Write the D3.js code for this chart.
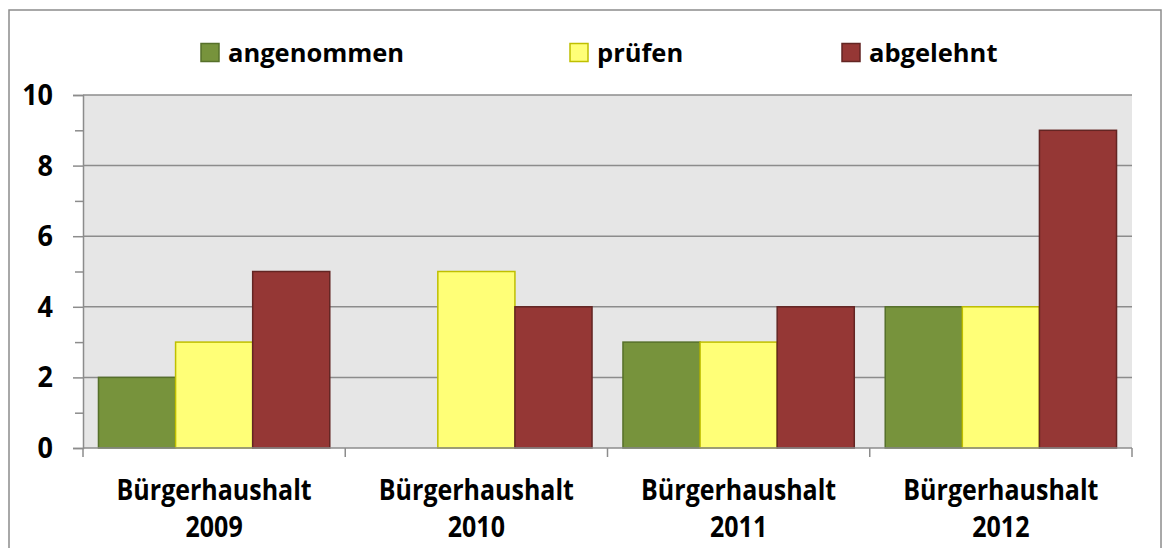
<!DOCTYPE html>
<html><head><meta charset="utf-8">
<script src="https://cdn.jsdelivr.net/npm/d3@7"></script>
<style>body{margin:0;background:#fff}svg{display:block}</style>
</head><body>
<script>
const categories = ["Bürgerhaushalt 2009","Bürgerhaushalt 2010","Bürgerhaushalt 2011","Bürgerhaushalt 2012"];
const seriesNames = ["angenommen","prüfen","abgelehnt"];
const angenommen = [2,0,3,4];
const pruefen = [3,5,3,4];
const abgelehnt = [5,4,4,9];
const yTicks = [0,2,4,6,8,10];
const fills = ["#77933C","#FFFF77","#953735"];
const strokes = ["#56702A","#BFBF00","#632523"];
const seriesVals = [angenommen, pruefen, abgelehnt];

const W=1164,H=548;
const svg=d3.select("body").append("svg").attr("width",W).attr("height",H);
const font="'Open Sans', Lato, sans-serif";
svg.append("rect").attr("x",9).attr("y",10).attr("width",1152).attr("height",560)
  .attr("fill","#fff").attr("stroke","#8C8C8C").attr("stroke-width",1.5);

const L=83,R=1132,T=95,B=448;
const y=d3.scaleLinear().domain([0,10]).range([B,T]);
const x0=d3.scaleBand().domain(categories).range([L,R]).paddingInner(0.118).paddingOuter(0.059);
const x1=d3.scaleBand().domain(seriesNames).range([0,x0.bandwidth()]);

svg.append("rect").attr("x",L).attr("y",T).attr("width",R-L).attr("height",B-T).attr("fill","#E6E6E6");
svg.append("g").selectAll("line").data(yTicks.filter(d=>d>0)).join("line")
  .attr("x1",L).attr("x2",R).attr("y1",d=>y(d)).attr("y2",d=>y(d))
  .attr("stroke","#8C8C8C").attr("stroke-width",1.5);

const g=svg.append("g");
categories.forEach((c,i)=>{
  seriesNames.forEach((s,j)=>{
    const v=seriesVals[j][i];
    if(v<=0) return;
    g.append("rect").attr("x",x0(c)+x1(s)).attr("y",y(v)).attr("width",x1.bandwidth()).attr("height",y(0)-y(v))
      .attr("fill",fills[j]).attr("stroke",strokes[j]).attr("stroke-width",1.5);
  });
});

const yAxis=d3.axisLeft(y).tickValues(yTicks).tickSize(10).tickPadding(20).tickFormat(d3.format("d"));
const ya=svg.append("g").attr("transform",`translate(${L},0)`).call(yAxis);
ya.select(".domain").attr("stroke","#8C8C8C").attr("stroke-width",1.5);
ya.selectAll(".tick line").attr("stroke","#8C8C8C").attr("stroke-width",1.5);
ya.selectAll(".tick text").attr("font-family",font).attr("font-weight",700).attr("font-size",27).attr("fill","#000")
  .attr("transform","scale(1,1.09)");
const minor=d3.axisLeft(y).tickValues([1,3,5,7,9]).tickSize(8).tickFormat("");
const ym=svg.append("g").attr("transform",`translate(${L},0)`).call(minor);
ym.select(".domain").remove();
ym.selectAll(".tick line").attr("stroke","#8C8C8C").attr("stroke-width",1.5);

const xa=svg.append("g").attr("transform",`translate(0,${B})`);
xa.append("line").attr("x1",L).attr("x2",R).attr("stroke","#8C8C8C").attr("stroke-width",1.5);
const edges=[L].concat(categories.map((c,i)=>L+(i+1)*x0.step()));
xa.selectAll("line.tk").data(edges).join("line").attr("class","tk")
  .attr("x1",d=>d).attr("x2",d=>d).attr("y1",0).attr("y2",9).attr("stroke","#8C8C8C").attr("stroke-width",1.5);
categories.forEach(c=>{
  const parts=c.split(" ");
  const cx=x0(c)+x0.bandwidth()/2;
  [[parts[0],52],[parts[1],89]].forEach(([txt,yy])=>{
    xa.append("text").attr("text-anchor","middle").attr("transform",`translate(${cx},${yy}) scale(1,1.13)`)
      .attr("font-family",font).attr("font-weight",700).attr("font-size",25).attr("fill","#000").text(txt);
  });
});

const legX=[201,570,842];
const lg=svg.append("g");
seriesNames.forEach((s,j)=>{
  lg.append("rect").attr("x",legX[j]).attr("y",43.5).attr("width",18).attr("height",18)
    .attr("fill",fills[j]).attr("stroke",strokes[j]).attr("stroke-width",1.5);
  lg.append("text").attr("x",legX[j]+27).attr("y",62).text(s)
    .attr("font-family",font).attr("font-weight",700).attr("font-size",25.5).attr("fill","#000");
});
</script>
</body></html>
